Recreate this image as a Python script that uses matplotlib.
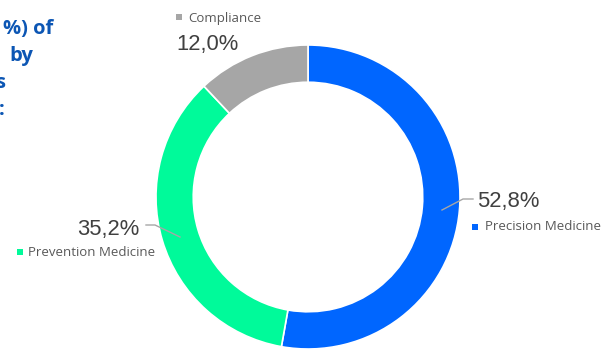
import matplotlib
matplotlib.use("Agg")
import matplotlib.pyplot as plt
from matplotlib.patches import Rectangle

# Segment data (clockwise from 12 o'clock)
categories = ["Precision Medicine", "Prevention Medicine", "Compliance"]
shares = [52.8, 35.2, 12.0]
colors = ["#0066FF", "#00FA9A", "#A6A6A6"]

W, H = 611, 349
fig = plt.figure(figsize=(W / 100, H / 100), dpi=100)
ax = fig.add_axes([0, 0, 1, 1])
ax.set_xlim(0, W)
ax.set_ylim(0, H)
ax.set_aspect("equal")
ax.axis("off")

def py(y):
    """convert a top-down pixel row to axes y"""
    return H - y

cx, cy, R = 308, py(197), 152
ax.pie(shares, colors=colors, startangle=90, counterclock=False,
       center=(cx, cy), radius=R,
       wedgeprops=dict(width=R * 0.245, edgecolor="white", linewidth=1.2))
ax.set_xlim(0, W)
ax.set_ylim(0, H)

num_font = dict(family="Liberation Sans", fontsize=15.8, color="#404040")
lab_font = dict(family="Open Sans", fontsize=9.5, color="#595959")

def pct(v):
    return f"{v:.1f}%".replace(".", ",")

# value labels
ax.text(477, py(207), pct(shares[0]), ha="left", va="baseline", **num_font)
ax.text(139, py(235), pct(shares[1]), ha="right", va="baseline", **num_font)
ax.text(176, py(50), pct(shares[2]), ha="left", va="baseline", **num_font)

# leader lines
ax.plot([442, 463, 473], [py(210), py(199), py(199)], color="#A6A6A6", lw=1)
ax.plot([146, 155, 180], [py(225), py(225), py(237)], color="#A6A6A6", lw=1)

# category labels with colour keys
def key(x, yc, color, text, tx, baseline):
    ax.add_patch(Rectangle((x, py(yc) - 3), 6, 6, color=color, lw=0))
    ax.text(tx, py(baseline), text, ha="left", va="baseline", **lab_font)

key(472, 227, colors[0], categories[0], 485, 230)
key(17, 252, colors[1], categories[1], 28, 256)
key(176, 17, colors[2], categories[2], 188, 22)

# title (runs off the left edge)
title_font = dict(family="Open Sans", fontsize=14.5, fontweight="bold", color="#0C56B4",
                  ha="right", va="baseline")
ax.text(53, py(34), "%) of", **title_font)
ax.text(33, py(61), "by", **title_font)
ax.text(5, py(88), "s", **title_font)
ax.text(5, py(115), ":", **title_font)

fig.savefig("out.png", dpi=100)
